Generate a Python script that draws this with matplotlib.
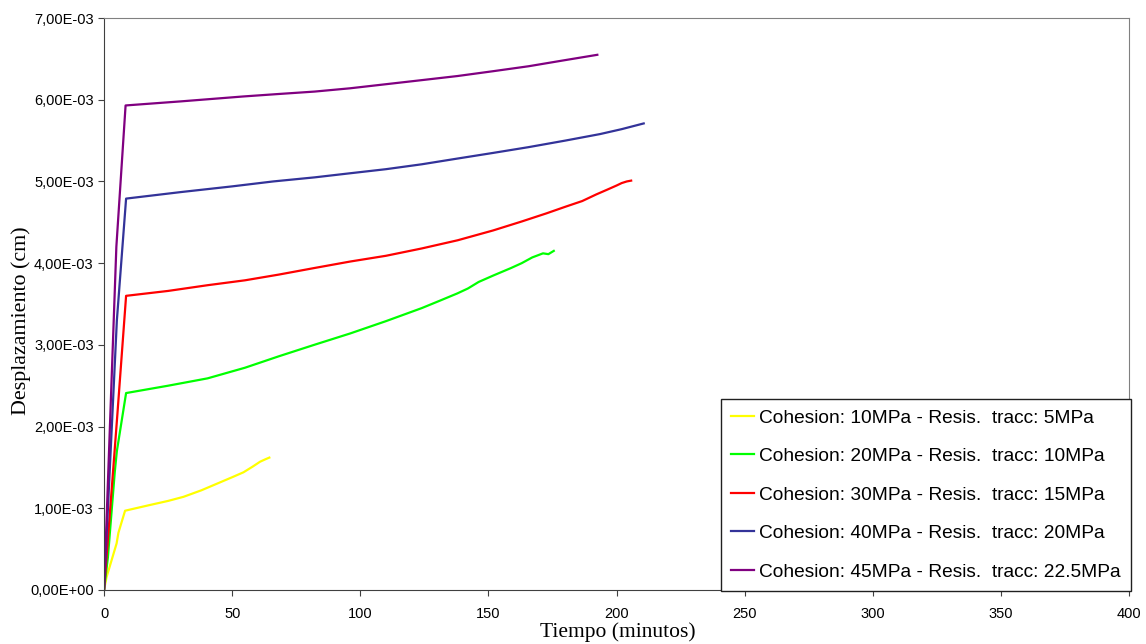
import numpy as np
import matplotlib
matplotlib.use("Agg")
import matplotlib.pyplot as plt
from matplotlib.ticker import FuncFormatter

# tiempo (minutos) / desplazamiento (cm)
t_10 = [0, 1.0, 4.9, 5.6, 8.2, 17.9, 25, 31, 38, 44, 50, 54.4, 58, 60.9, 63, 64.5]
d_10 = [0, 0.16e-3, 0.57e-3, 0.70e-3, 0.97e-3, 1.04e-3, 1.09e-3, 1.14e-3, 1.22e-3, 1.30e-3,
        1.38e-3, 1.44e-3, 1.51e-3, 1.57e-3, 1.60e-3, 1.62e-3]

t_20 = [0, 1.5, 4.2, 5.0, 8.6, 25, 40.4, 55, 68.2, 82, 96.1, 110, 124, 131, 137.9, 142, 146.2,
        152, 158.8, 163, 167.1, 171.3, 173.4, 175.5]
d_20 = [0, 0.4e-3, 1.45e-3, 1.7e-3, 2.41e-3, 2.50e-3, 2.59e-3, 2.72e-3, 2.86e-3, 3.00e-3, 3.14e-3,
        3.29e-3, 3.45e-3, 3.54e-3, 3.63e-3, 3.69e-3, 3.77e-3, 3.85e-3, 3.94e-3, 4.00e-3, 4.07e-3,
        4.12e-3, 4.11e-3, 4.15e-3]

t_30 = [0, 5.2, 8.6, 25, 40.4, 55, 68.2, 82, 96.1, 110, 124, 138, 151.8, 163, 172.7, 180, 186.6,
        192, 196.4, 200, 202, 204, 205.7]
d_30 = [0, 2.15e-3, 3.60e-3, 3.66e-3, 3.73e-3, 3.79e-3, 3.86e-3, 3.94e-3, 4.02e-3, 4.09e-3,
        4.18e-3, 4.28e-3, 4.40e-3, 4.51e-3, 4.61e-3, 4.69e-3, 4.76e-3, 4.84e-3, 4.90e-3, 4.95e-3,
        4.98e-3, 5.00e-3, 5.01e-3]

t_40 = [0, 5.0, 8.6, 30, 50.1, 66, 82.2, 96, 110, 124, 137.9, 152, 165.7, 180, 193.6, 202, 210.6]
d_40 = [0, 3.3e-3, 4.79e-3, 4.87e-3, 4.94e-3, 5.00e-3, 5.05e-3, 5.10e-3, 5.15e-3, 5.21e-3,
        5.28e-3, 5.35e-3, 5.42e-3, 5.50e-3, 5.58e-3, 5.64e-3, 5.71e-3]

t_45 = [0, 4.8, 8.4, 30, 54.3, 68, 82.2, 96, 110, 124, 137.9, 152, 165.7, 179, 192.5]
d_45 = [0, 4.2e-3, 5.93e-3, 5.98e-3, 6.04e-3, 6.07e-3, 6.10e-3, 6.14e-3, 6.19e-3, 6.24e-3,
        6.29e-3, 6.35e-3, 6.41e-3, 6.48e-3, 6.55e-3]

labels = [
    "Cohesion: 10MPa - Resis.  tracc: 5MPa",
    "Cohesion: 20MPa - Resis.  tracc: 10MPa",
    "Cohesion: 30MPa - Resis.  tracc: 15MPa",
    "Cohesion: 40MPa - Resis.  tracc: 20MPa",
    "Cohesion: 45MPa - Resis.  tracc: 22.5MPa",
]
colors = ["#FFFF00", "#00FF00", "#FF0000", "#333399", "#800080"]

series = [(t_10, d_10), (t_20, d_20), (t_30, d_30), (t_40, d_40), (t_45, d_45)]

fig = plt.figure(figsize=(11.46, 6.44), dpi=100)
ax = fig.add_axes([0.0908, 0.0839, 0.8944, 0.8881])

for (t, d), c, lab in zip(series, colors, labels):
    ax.plot(t, d, color=c, lw=1.6, label=lab)

ax.set_xlim(0, 400)
ax.set_ylim(0, 7e-3)
ax.set_xticks(np.arange(0, 401, 50))
ax.set_yticks(np.arange(0, 7.01e-3, 1e-3))
ax.yaxis.set_major_formatter(FuncFormatter(lambda v, p: f"{v:.2E}".replace(".", ",")))

for s in ax.spines.values():
    s.set_color("#808080")
ax.spines["left"].set_color("#404040")
ax.spines["bottom"].set_color("#404040")
ax.tick_params(direction="out", length=4, color="#404040", labelsize=10.5,
               labelfontfamily="Liberation Sans")
ax.tick_params(axis="x", pad=8)

ax.set_xlabel("Tiempo (minutos)", family="Liberation Serif", fontsize=15.5)
ax.set_ylabel("Desplazamiento (cm)", family="Liberation Serif", fontsize=15.8)
ax.xaxis.set_label_coords(0.501, -0.057)
ax.yaxis.set_label_coords(-0.071, 0.47)

leg = ax.legend(loc="lower right", bbox_to_anchor=(0.987, 0.082), bbox_transform=fig.transFigure,
                borderaxespad=0, fancybox=False, framealpha=1, edgecolor="#202020",
                prop={"family": "Liberation Sans", "size": 13.8}, handlelength=1.2,
                handletextpad=0.25, labelspacing=1.1, borderpad=0.55)
leg.get_frame().set_linewidth(1.0)
leg.set_zorder(5)

fig.savefig("out.png", dpi=100)
